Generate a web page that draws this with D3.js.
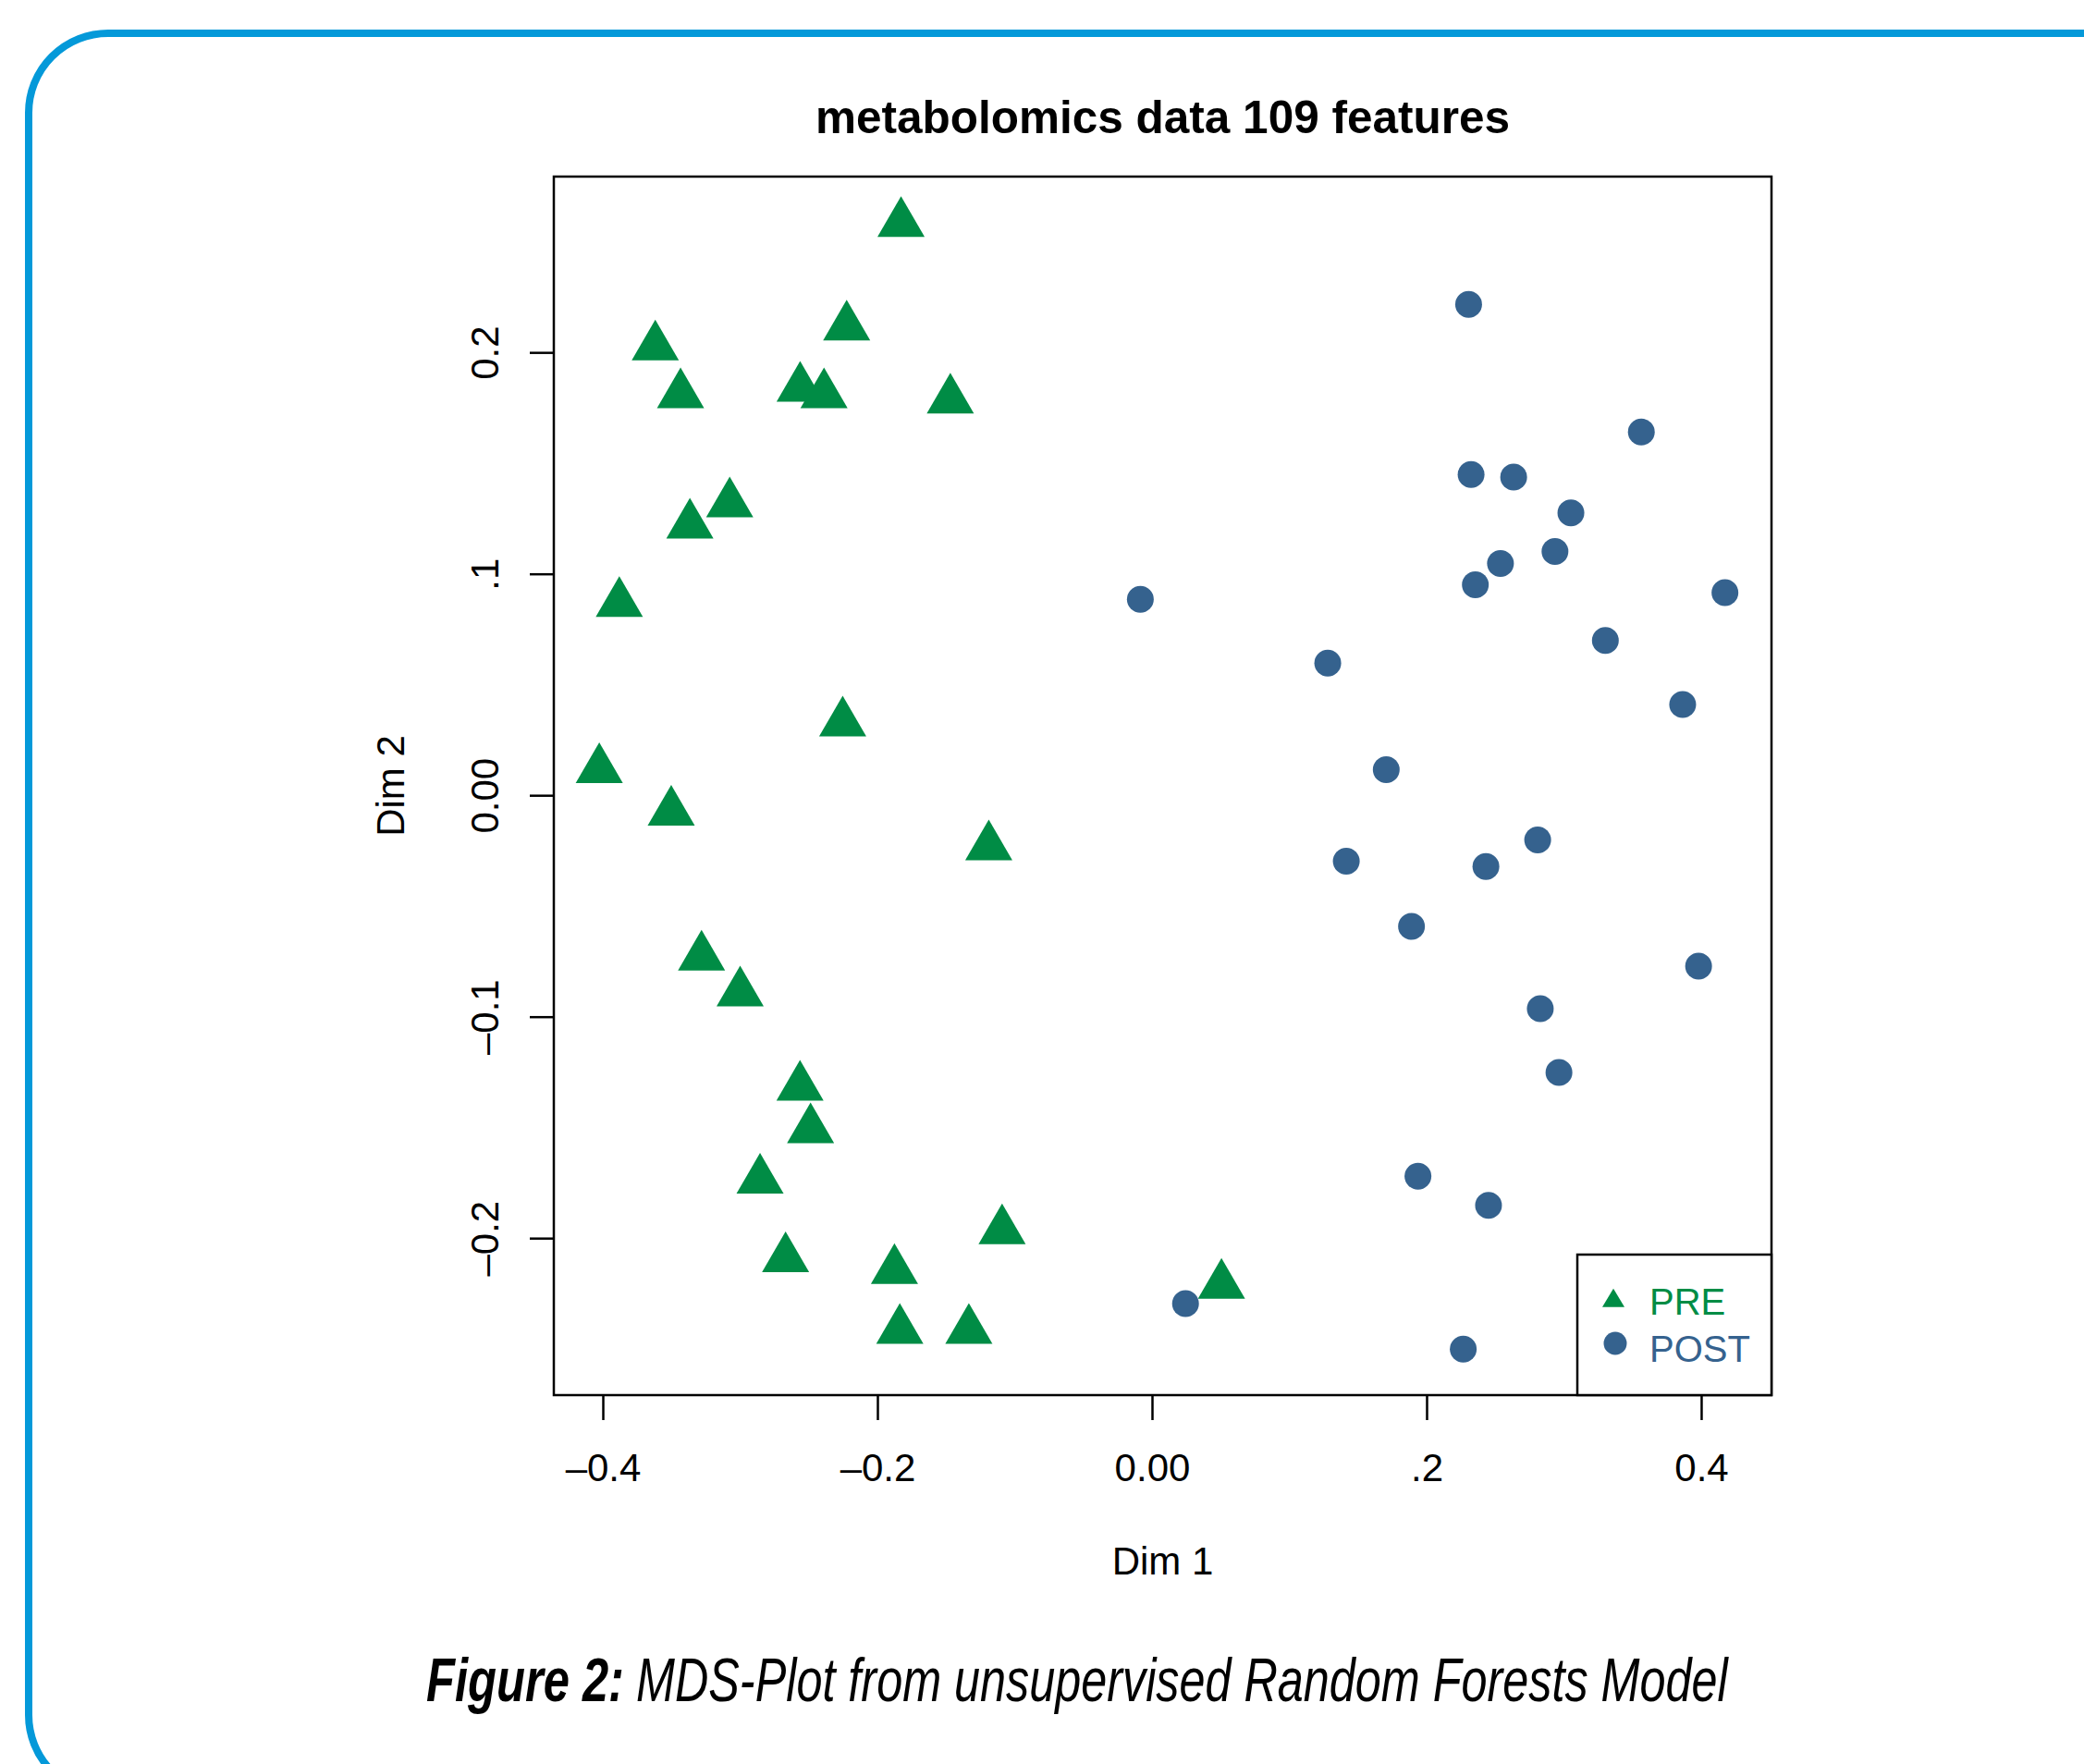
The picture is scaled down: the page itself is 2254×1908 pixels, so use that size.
<!DOCTYPE html>
<html>
<head>
<meta charset="utf-8">
<script src="https://cdn.jsdelivr.net/npm/d3@7"></script>
<style>
  html, body { margin: 0; padding: 0; background: #ffffff; }
  svg { display: block; }
</style>
</head>
<body>
<script>
// ---- data ----
const preDim1 = [-0.1828, -0.3618, -0.2224, -0.3434, -0.2563, -0.2389, -0.1469, -0.3076, -0.3366, -0.3880,
                 -0.2253, -0.4026, -0.3502, -0.1189, -0.3281, -0.3000, -0.2564, -0.2487, -0.2855, -0.1092,
                 -0.2669, -0.1876, 0.0506, -0.1837, -0.1334];
const preDim2 = [0.2583, 0.2025, 0.2115, 0.1809, 0.1839, 0.1809, 0.1785, 0.1317, 0.1221, 0.0867,
                 0.0327, 0.0116, -0.0076, -0.0232, -0.0730, -0.0892, -0.1318, -0.1510, -0.1738, -0.1966,
                 -0.2092, -0.2146, -0.2212, -0.2416, -0.2416];
const postDim1 = [0.2306, 0.3564, 0.2324, 0.2634, 0.3051, 0.2935, 0.2538, 0.2355, -0.0085, 0.4173,
                  0.3302, 0.1280, 0.3865, 0.1706, 0.2809, 0.1415, 0.2432, 0.1890, 0.3981, 0.2828,
                  0.2964, 0.1937, 0.2451, 0.0244, 0.2267];
const postDim2 = [0.2217, 0.1641, 0.1449, 0.1437, 0.1275, 0.1101, 0.1047, 0.0951, 0.0885, 0.0915,
                  0.0699, 0.0597, 0.0410, 0.0116, -0.0202, -0.0298, -0.0322, -0.0592, -0.0772, -0.0964,
                  -0.1252, -0.1720, -0.1852, -0.2296, -0.2501];
const xTickValues = [-0.4, -0.2, 0.0, 0.2, 0.4];
const xTickLabels = ["\u20130.4", "\u20130.2", "0.00", ".2", "0.4"];
const yTickValues = [0.2, 0.1, 0.0, -0.1, -0.2];
const yTickLabels = ["0.2", ".1", "0.00", "\u20130.1", "\u20130.2"];
const groups = ["PRE", "POST"];
const titleText = "metabolomics data 109 features";
const xLabel = "Dim 1";
const yLabel = "Dim 2";
const captionBold = "Figure 2:";
const captionRest = "MDS-Plot from unsupervised Random Forests Model";

// ---- styles ----
const W = 2254, H = 1908;
const green = "#008c45", blue = "#35628e", frameBlue = "#0499d9";
const font = "'Liberation Sans', Arial, Helvetica, sans-serif";

const svg = d3.select("body").append("svg").attr("width", W).attr("height", H);

// outer rounded frame
svg.append("rect")
  .attr("x", 31).attr("y", 36)
  .attr("width", 2400).attr("height", 1905)
  .attr("rx", 86).attr("ry", 86)
  .attr("fill", "none").attr("stroke", frameBlue).attr("stroke-width", 8);

const plot = { left: 599, top: 191, right: 1916, bottom: 1509 };
const x = d3.scaleLinear().domain([-0.4357, 0.4512]).range([plot.left, plot.right]);
const y = d3.scaleLinear().domain([-0.2709, 0.2794]).range([plot.bottom, plot.top]);

// title
svg.append("text")
  .attr("x", (plot.left + plot.right) / 2).attr("y", 144)
  .attr("text-anchor", "middle")
  .attr("font-family", font).attr("font-weight", "bold").attr("font-size", 49.5)
  .text(titleText);

// x axis
const xAxis = d3.axisBottom(x).tickValues(xTickValues)
  .tickFormat((d, i) => xTickLabels[i]).tickSize(27).tickPadding(0);
const gx = svg.append("g").attr("transform", `translate(0,${plot.bottom})`).call(xAxis);
gx.select(".domain").remove();
gx.selectAll(".tick line").attr("stroke", "#000").attr("stroke-width", 2.5);
gx.selectAll(".tick text")
  .attr("font-family", font).attr("font-size", 42).attr("fill", "#000")
  .attr("y", 93).attr("dy", 0);

// y axis
const yAxis = d3.axisLeft(y).tickValues(yTickValues)
  .tickFormat((d, i) => yTickLabels[i]).tickSize(26).tickPadding(0);
const gy = svg.append("g").attr("transform", `translate(${plot.left},0)`).call(yAxis);
gy.select(".domain").remove();
gy.selectAll(".tick line").attr("stroke", "#000").attr("stroke-width", 2.5);
gy.selectAll(".tick text")
  .attr("font-family", font).attr("font-size", 42).attr("fill", "#000")
  .attr("x", 0).attr("dy", 0)
  .attr("text-anchor", "middle")
  .attr("transform", "translate(-60,0) rotate(-90)");

// plot box
svg.append("rect")
  .attr("x", plot.left).attr("y", plot.top)
  .attr("width", plot.right - plot.left).attr("height", plot.bottom - plot.top)
  .attr("fill", "none").attr("stroke", "#000").attr("stroke-width", 2.5);

// axis labels
svg.append("text")
  .attr("x", (plot.left + plot.right) / 2).attr("y", 1703)
  .attr("text-anchor", "middle")
  .attr("font-family", font).attr("font-size", 42)
  .text(xLabel);
svg.append("text")
  .attr("transform", `translate(437,${(plot.top + plot.bottom) / 2}) rotate(-90)`)
  .attr("text-anchor", "middle")
  .attr("font-family", font).attr("font-size", 42)
  .text(yLabel);

// triangle path centred on centroid
function tri(cx, cy, w, h) {
  return `M${cx},${cy - 2 * h / 3}L${cx + w / 2},${cy + h / 3}L${cx - w / 2},${cy + h / 3}Z`;
}

const pre = preDim1.map((d, i) => ({ d1: d, d2: preDim2[i] }));
const post = postDim1.map((d, i) => ({ d1: d, d2: postDim2[i] }));

svg.append("g").selectAll("path").data(pre).join("path")
  .attr("d", d => tri(x(d.d1), y(d.d2), 51, 44))
  .attr("fill", green);

svg.append("g").selectAll("circle").data(post).join("circle")
  .attr("cx", d => x(d.d1)).attr("cy", d => y(d.d2)).attr("r", 14.5)
  .attr("fill", blue);

// legend
const lg = { left: 1706, top: 1357 };
svg.append("rect")
  .attr("x", lg.left).attr("y", lg.top)
  .attr("width", plot.right - lg.left).attr("height", plot.bottom - lg.top)
  .attr("fill", "#fff").attr("stroke", "#000").attr("stroke-width", 2.5);
svg.append("path").attr("d", tri(1745, 1407, 24, 20)).attr("fill", green);
svg.append("circle").attr("cx", 1747).attr("cy", 1453).attr("r", 12.5).attr("fill", blue);
svg.append("text").attr("x", 1784).attr("y", 1422)
  .attr("font-family", font).attr("font-size", 40).attr("fill", green).text(groups[0]);
svg.append("text").attr("x", 1784).attr("y", 1473)
  .attr("font-family", font).attr("font-size", 40).attr("fill", blue).text(groups[1]);

// caption (condensed italic: horizontally scaled to the reference width)
function condensed(txt, x0, targetW, weight) {
  const t = svg.append("text")
    .attr("x", 0).attr("y", 0)
    .attr("font-family", font).attr("font-style", "italic").attr("font-weight", weight)
    .attr("font-size", 66)
    .text(txt);
  const natural = t.node().getComputedTextLength();
  const sx = targetW / natural;
  t.attr("transform", `translate(${x0},1840) scale(${sx},1)`);
}
condensed(captionBold, 461, 214, "bold");
condensed(captionRest, 688, 1181, "normal");
</script>
</body>
</html>
